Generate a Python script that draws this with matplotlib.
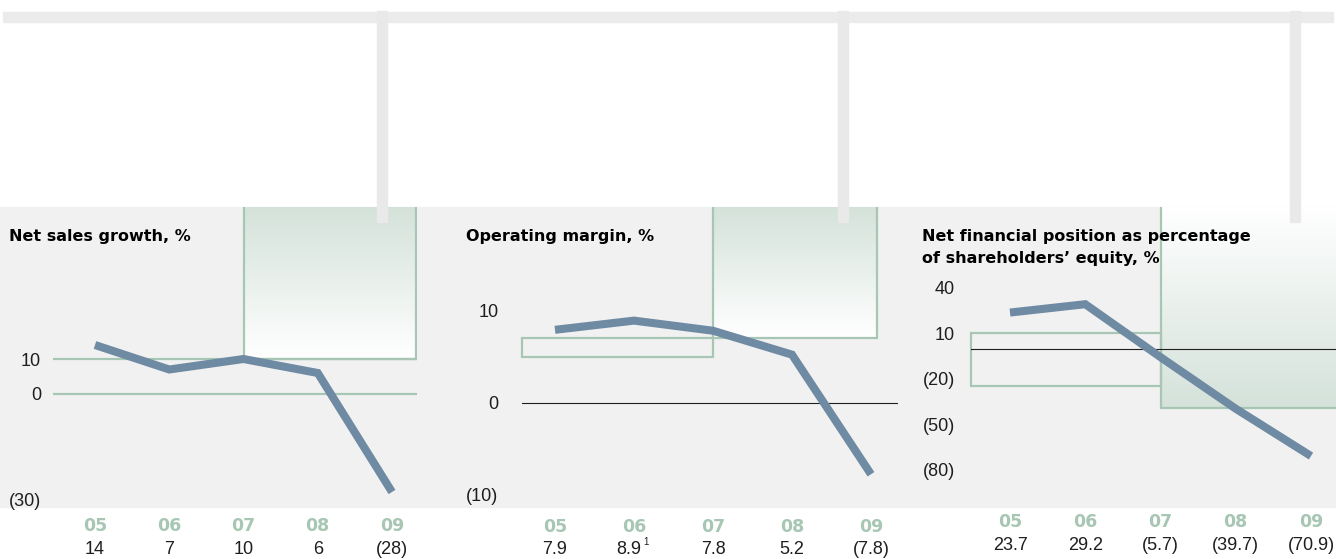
import numpy as np
import matplotlib
matplotlib.use('Agg')
import matplotlib.pyplot as plt
from matplotlib.colors import LinearSegmentedColormap
from matplotlib.patches import Rectangle

plt.rcParams['font.family'] = ['Liberation Sans', 'DejaVu Sans']

# five year key figures
years = ['05', '06', '07', '08', '09']

sales_growth = [14, 7, 10, 6, -28]
operating_margin = [7.9, 8.9, 7.8, 5.2, -7.8]
net_fin_position = [23.7, 29.2, -5.7, -39.7, -70.9]

sales_ticks = [10, 0, -30]
margin_ticks = [10, 0, -10]
netfin_ticks = [40, 10, -20, -50, -80]

margin_notes = ['', '1', '', '', '']

W, H = 1336, 559
LINE = '#6f8aa3'
GREEN = '#a7c6b3'
GRAD = '#d4e2da'
BG = '#f1f1f1'
TXT = '#1e1e1e'
HEAVY = dict(family='DejaVu Sans', fontweight='bold')

cmap = LinearSegmentedColormap.from_list('fade', ['white', GRAD])


def fmt(v, dec):
    s = '{:.{}f}'.format(abs(v), dec)
    return '(%s)' % s if v < 0 else s


def fx(px):
    return px / W


def fy(py):
    return 1 - py / H


def add_panel(left, right, x0, dx, y0, k):
    # axes spanning the grey band, x in year index, y in percent
    ax = fig.add_axes([fx(left), fy(507), (right - left) / W, 300 / H])
    ax.set_xlim((left - x0) / dx, (right - x0) / dx)
    ax.set_ylim(-(507 - y0) / k, (y0 - 207) / k)
    ax.patch.set_visible(False)
    ax.axis('off')
    return ax


def gradient_box(ax, x0, x1, y0, y1, green_top=True, right_edge=True):
    grad = np.linspace(0, 1, 256).reshape(-1, 1)
    if not green_top:
        grad = grad[::-1]
    ax.imshow(grad, extent=(x0, x1, y0, y1), origin='lower', cmap=cmap,
              aspect='auto', zorder=1, interpolation='bilinear')
    xs = [x0, x0, x1, x1] if right_edge else [x0, x0, x1]
    ys = [y1, y0, y0, y1] if right_edge else [y1, y0, y0]
    ax.plot(xs, ys, color=GREEN, lw=1.6, zorder=2, solid_joinstyle='miter')


def outline_box(ax, x0, x1, y0, y1):
    ax.add_patch(Rectangle((x0, y0), x1 - x0, y1 - y0, fill=False,
                           ec=GREEN, lw=1.6, zorder=2, clip_on=False))


def draw_series(ax, values, dec, ticks, tick_pad, yr_off, val_off, notes=None):
    ax.plot(range(len(values)), values, color=LINE, lw=5.8,
            solid_capstyle='butt', solid_joinstyle='miter', zorder=3)
    for t in ticks:
        ax.annotate(fmt(t, 0), xy=(0, t), xycoords=('axes fraction', 'data'),
                    xytext=(-tick_pad, 0), textcoords='offset points',
                    ha='right', va='center_baseline', fontsize=13, color=TXT)
    for i, (yr, v) in enumerate(zip(years, values)):
        ax.annotate(yr, xy=(i, 0), xycoords=('data', 'axes fraction'),
                    xytext=(0, -yr_off), textcoords='offset points',
                    ha='center', va='center_baseline', fontsize=12.5,
                    color=GREEN, **HEAVY)
        shift = -4 if notes and notes[i] else 0
        ax.annotate(fmt(v, dec), xy=(i, 0), xycoords=('data', 'axes fraction'),
                    xytext=(shift, -val_off), textcoords='offset points',
                    ha='center', va='center_baseline', fontsize=13, color=TXT)
        if notes and notes[i]:
            ax.annotate(notes[i], xy=(i, 0), xycoords=('data', 'axes fraction'),
                        xytext=(7, -val_off + 5), textcoords='offset points',
                        ha='left', va='center_baseline', fontsize=7, color=TXT)


fig = plt.figure(figsize=(W / 100, H / 100), dpi=100)

# grey band behind the three charts
fig.patches.append(Rectangle((0, fy(507)), 1, 300 / H, transform=fig.transFigure,
                             color=BG, zorder=-1))

# net sales growth
ax1 = add_panel(53, 417, 95, 74.25, 394, 3.5)
top1 = ax1.get_ylim()[1]
gradient_box(ax1, 2, 4.323, 10, top1)
ax1.axhline(10, color=GREEN, lw=1.6, zorder=2)
ax1.axhline(0, color=GREEN, lw=1.6, zorder=2)
draw_series(ax1, sales_growth, 0, sales_ticks, 8.6, 12.5, 29.5)
fig.text(fx(9), fy(229), 'Net sales growth, %', fontsize=11.5,
         va='top', ha='left', color='black', **HEAVY)

# operating margin
ax2 = add_panel(522, 898, 555, 79, 402.5, 9.2)
x2min, _ = ax2.get_xlim()
top2 = ax2.get_ylim()[1]
outline_box(ax2, x2min, 2, 5, 7)
gradient_box(ax2, 2, 4.076, 7, top2)
ax2.axhline(0, color=TXT, lw=0.8, zorder=2)
draw_series(ax2, operating_margin, 1, margin_ticks, 17, 13, 29.5, margin_notes)
fig.text(fx(466), fy(229), 'Operating margin, %', fontsize=11.5,
         va='top', ha='left', color='black', **HEAVY)

# net financial position / equity
ax3 = add_panel(971, 1336, 1010, 75.25, 348.5, 1.517)
x3min, x3max = ax3.get_xlim()
top3 = ax3.get_ylim()[1]
outline_box(ax3, x3min, 2, -25, 10)
gradient_box(ax3, 2, x3max + 0.2, -39.5, top3, green_top=False, right_edge=False)
ax3.set_xlim(x3min, x3max)
ax3.axhline(0, color=TXT, lw=0.8, zorder=2)
draw_series(ax3, net_fin_position, 1, netfin_ticks, 11.5, 9.5, 26)
fig.text(fx(922), fy(229), 'Net financial position as percentage\nof shareholders\u2019 equity, %',
         fontsize=11.5, va='top', ha='left', color='black', linespacing=1.55, **HEAVY)

# hanging rail on top
fig.patches.append(Rectangle((fx(3), fy(22)), 1330 / W, 10 / H,
                             transform=fig.transFigure, color='#ebebeb', zorder=5))
for cx in [382, 843, 1295]:
    fig.patches.append(Rectangle((fx(cx - 5), fy(222)), 10 / W, 211 / H,
                                 transform=fig.transFigure, color='#e9e9e9', zorder=5))

fig.savefig('out.png', dpi=100)
